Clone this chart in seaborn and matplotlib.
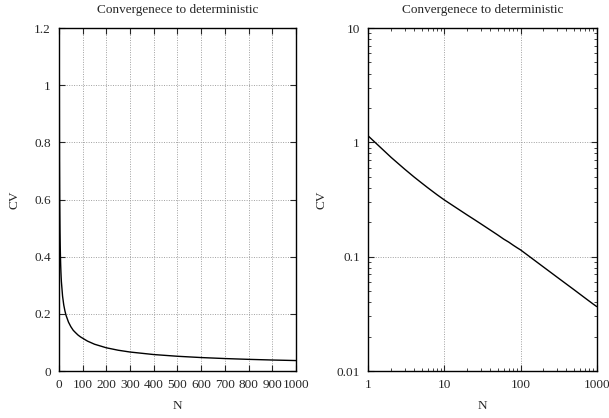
import matplotlib
matplotlib.use("Agg")
import matplotlib.pyplot as plt
import matplotlib.ticker as mticker
import seaborn as sns
import pandas as pd
import numpy as np

N_values = [1, 2, 3, 4, 5, 6, 7, 8, 9, 10, 15, 20, 25, 30, 40, 50, 60, 70,
            80, 90, 100, 120, 150, 200, 250, 300, 400, 500, 600, 700, 800,
            900, 1000]
CV_values = [1.135, 0.737, 0.583, 0.497, 0.442, 0.402, 0.372, 0.348, 0.329,
             0.313, 0.262, 0.231, 0.210, 0.194, 0.171, 0.155, 0.1425, 0.134,
             0.126, 0.1197, 0.1146, 0.1047, 0.0937, 0.0812, 0.0727, 0.0664,
             0.0576, 0.0516, 0.0471, 0.0436, 0.0408, 0.0385, 0.0366]
title_text = "Convergenece to deterministic"
left_xticks = [0, 100, 200, 300, 400, 500, 600, 700, 800, 900, 1000]
left_yticks = [0, 0.2, 0.4, 0.6, 0.8, 1, 1.2]
left_yticklabels = ["0", "0.2", "0.4", "0.6", "0.8", "1", "1.2"]
right_xticks = [1, 10, 100, 1000]
right_yticks = [0.01, 0.1, 1, 10]
right_yticklabels = ["0.01", "0.1", "1", "10"]

df = pd.DataFrame({"N": N_values, "CV": CV_values})

sns.set_style("ticks")
plt.rcParams['font.family'] = ['Liberation Serif', 'DejaVu Serif']
FS = 9.5
plt.rcParams['font.size'] = FS

fig = plt.figure(figsize=(6.09, 4.18), dpi=100)
ax1 = fig.add_axes([0.0969, 0.1124, 0.389, 0.8206])
ax2 = fig.add_axes([0.6048, 0.1124, 0.375, 0.8206])

grid_kw = dict(color="#a0a0a0", linestyle=(0, (1, 1.5)), linewidth=0.7)

# Left: linear
sns.lineplot(data=df, x="N", y="CV", ax=ax1, color="black", linewidth=1.0)
ax1.set_xlim(0, 1000)
ax1.set_ylim(0, 1.2)
ax1.set_xticks(left_xticks)
ax1.set_xticklabels([str(t) for t in left_xticks])
ax1.set_yticks(left_yticks)
ax1.set_yticklabels(left_yticklabels)
ax1.grid(True, **grid_kw)

# Right: log-log
sns.lineplot(data=df, x="N", y="CV", ax=ax2, color="black", linewidth=1.0)
ax2.set_xscale("log")
ax2.set_yscale("log")
ax2.set_xlim(1, 1000)
ax2.set_ylim(0.01, 10)
ax2.set_xticks(right_xticks)
ax2.set_xticklabels([str(t) for t in right_xticks])
ax2.set_yticks(right_yticks)
ax2.set_yticklabels(right_yticklabels)
ax2.xaxis.set_minor_locator(mticker.LogLocator(base=10, subs=np.arange(2, 10)))
ax2.yaxis.set_minor_locator(mticker.LogLocator(base=10, subs=np.arange(2, 10)))
ax2.xaxis.set_minor_formatter(mticker.NullFormatter())
ax2.yaxis.set_minor_formatter(mticker.NullFormatter())
ax2.grid(True, which="major", **grid_kw)

for ax, lp in ((ax1, 10), (ax2, 6.5)):
    ax.set_title(title_text, fontsize=FS, pad=11)
    ax.set_xlabel("N", fontsize=FS, labelpad=6)
    ax.set_ylabel("CV", fontsize=FS, labelpad=lp)
    for s in ax.spines.values():
        s.set_visible(True)
        s.set_linewidth(1.0)
        s.set_color("black")
    ax.tick_params(which="major", direction="in", length=4, width=0.8,
                   top=True, right=True, labelsize=FS, pad=6)
    ax.tick_params(which="minor", direction="in", length=2, width=0.6,
                   top=True, right=True)

fig.savefig("out.png", dpi=100)
